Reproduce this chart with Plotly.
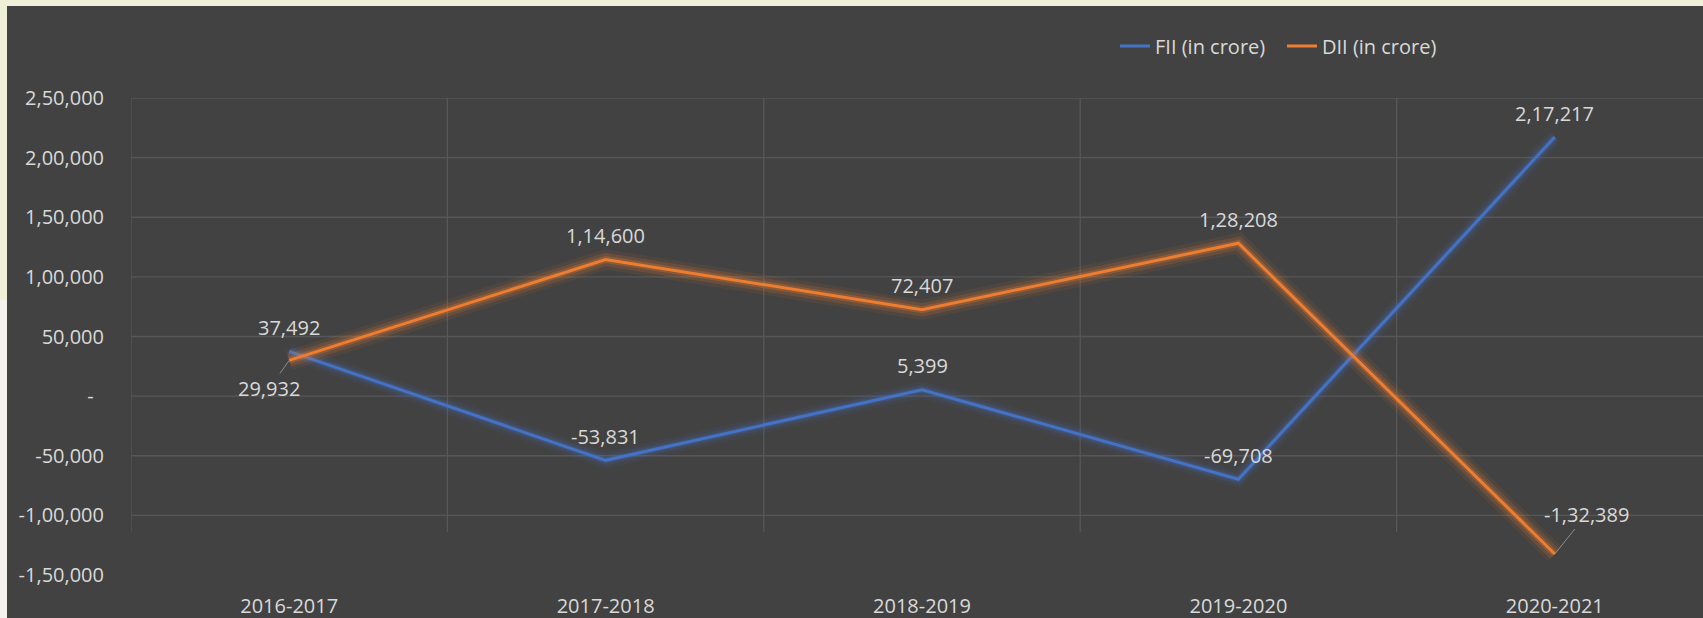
import plotly.graph_objects as go

# ---- data -------------------------------------------------------------
years = ["2016-2017", "2017-2018", "2018-2019", "2019-2020", "2020-2021"]
fii = [37492, -53831, 5399, -69708, 217217]
dii = [29932, 114600, 72407, 128208, -132389]
y_ticks = [250000, 200000, 150000, 100000, 50000, 0, -50000, -100000, -150000]
grid_levels = [250000, 200000, 150000, 100000, 50000, 0, -50000, -100000]

FII_NAME = "FII (in crore)"
DII_NAME = "DII (in crore)"
FII_COLOR = "#4472C4"
DII_COLOR = "#ED7D31"

# ---- page geometry ----------------------------------------------------
W, H = 1703, 618
ML, MR, MT, MB = 131, 0, 98, 43
PLOT_W = W - ML - MR
PLOT_H = H - MT - MB
CAT_STEP = 316.4                      # pixels per category slot
X_MAX = -0.5 + PLOT_W / CAT_STEP      # plot area runs off the right edge
Y_MIN, Y_MAX = -150000, 250000
VGRID_BOTTOM = -114000

BG = "#424242"
GRID = "#575757"
TXT = "#d9d9d9"
FONT = "Open Sans"
FS = 20


def inr(v):
    """Indian digit grouping (lakh / crore style); zero shown as a dash."""
    v = int(round(v))
    if v == 0:
        return "-\u00a0\u00a0"
    s = str(abs(v))
    if len(s) > 3:
        head, tail = s[:-3], s[-3:]
        groups = []
        while len(head) > 2:
            groups.insert(0, head[-2:])
            head = head[:-2]
        if head:
            groups.insert(0, head)
        s = ",".join(groups + [tail])
    return ("-" if v < 0 else "") + s


def px_to_paper_x(px):
    return (px - ML) / PLOT_W


def px_to_paper_y(py):
    return (H - MB - py) / PLOT_H


fig = go.Figure()

# soft glow under each line, then the line itself
for vals, color, name, glow in [(fii, FII_COLOR, FII_NAME, [(16, 0.07), (10, 0.13), (6, 0.2)]),
                                (dii, DII_COLOR, DII_NAME, [(20, 0.08), (13, 0.15), (7, 0.26)])]:
    for w, op in glow:
        fig.add_trace(go.Scatter(x=years, y=vals, mode="lines", showlegend=False,
                                 hoverinfo="skip", opacity=op,
                                 line=dict(color=color, width=w)))
    fig.add_trace(go.Scatter(x=years, y=vals, mode="lines", name=name,
                             line=dict(color=color, width=3)))

# ---- gridlines --------------------------------------------------------
shapes = []
for lv in grid_levels:
    shapes.append(dict(type="line", xref="paper", yref="y", x0=0, x1=1, y0=lv, y1=lv,
                       line=dict(color=GRID, width=1.3), layer="below"))
for i in range(len(years)):
    xb = i - 0.5
    shapes.append(dict(type="line", xref="x", yref="y", x0=xb, x1=xb,
                       y0=Y_MAX, y1=VGRID_BOTTOM,
                       line=dict(color=GRID, width=1.3), layer="below"))

# light page edge along the top and left
shapes.append(dict(type="rect", xref="paper", yref="paper",
                   x0=px_to_paper_x(0), x1=px_to_paper_x(W),
                   y0=px_to_paper_y(6), y1=px_to_paper_y(0),
                   fillcolor="#f1f0da", line=dict(width=0), layer="above"))
shapes.append(dict(type="rect", xref="paper", yref="paper",
                   x0=px_to_paper_x(0), x1=px_to_paper_x(7),
                   y0=px_to_paper_y(300), y1=px_to_paper_y(0),
                   fillcolor="#eef0d8", line=dict(width=0), layer="above"))
shapes.append(dict(type="rect", xref="paper", yref="paper",
                   x0=px_to_paper_x(0), x1=px_to_paper_x(7),
                   y0=px_to_paper_y(H), y1=px_to_paper_y(300),
                   fillcolor="#f3f3ec", line=dict(width=0), layer="above"))

# ---- data labels ------------------------------------------------------
annotations = []
label_font = dict(family=FONT, size=FS, color=TXT)
for vals, leaders in [(fii, {}), (dii, {0: (-20, 28), 4: (32, -40)})]:
    for i, v in enumerate(vals):
        if i in leaders:
            ax, ay = leaders[i]
            annotations.append(dict(x=years[i], y=v, text=inr(v), showarrow=True,
                                    ax=ax, ay=ay, arrowhead=0, arrowwidth=1,
                                    arrowcolor="#8c8c8c", standoff=0,
                                    font=label_font))
        else:
            annotations.append(dict(x=years[i], y=v, text=inr(v), showarrow=False,
                                    yshift=24, font=label_font))

fig.update_layout(
    width=W, height=H,
    margin=dict(l=ML, r=MR, t=MT, b=MB, pad=0),
    paper_bgcolor=BG, plot_bgcolor=BG,
    font=dict(family=FONT, size=FS, color=TXT),
    shapes=shapes,
    annotations=annotations,
    showlegend=True,
    legend=dict(orientation="h", x=px_to_paper_x(1115), xanchor="left",
                y=px_to_paper_y(46), yanchor="middle",
                bgcolor="rgba(0,0,0,0)", font=dict(family=FONT, size=FS, color=TXT),
                itemwidth=30, tracegroupgap=0,
                entrywidth=122, entrywidthmode="pixels"),
    xaxis=dict(type="category", range=[-0.5, X_MAX], showgrid=False, zeroline=False,
               showline=False, ticks="", ticklabelstandoff=17,
               tickfont=dict(family=FONT, size=FS, color=TXT)),
    yaxis=dict(range=[Y_MIN, Y_MAX], tickvals=y_ticks,
               ticktext=[inr(v) for v in y_ticks], showgrid=False,
               zeroline=False, showline=False, ticks="", ticklabelstandoff=26,
               tickfont=dict(family=FONT, size=FS, color=TXT)),
)

fig.write_html("out.html")
